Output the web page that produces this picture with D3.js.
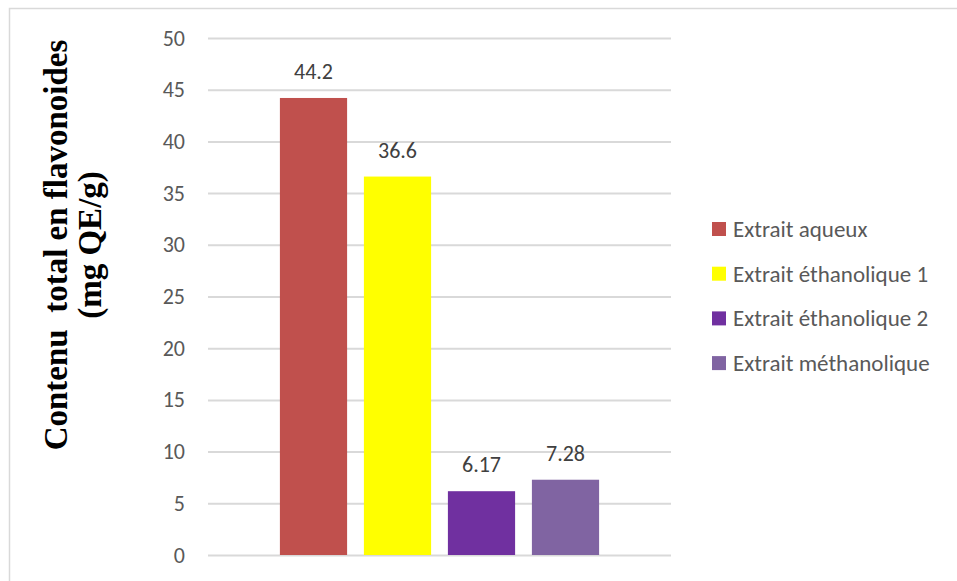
<!DOCTYPE html>
<html><head><meta charset="utf-8">
<script src="https://cdn.jsdelivr.net/npm/d3@7/dist/d3.min.js"></script>
<style>body{margin:0;background:#fff}svg{display:block}</style>
</head><body>
<svg id="c" width="957" height="581"></svg>
<script>
const categories = ["Extrait aqueux","Extrait éthanolique 1","Extrait éthanolique 2","Extrait méthanolique"];
const values = [44.2, 36.6, 6.17, 7.28];
const valueLabels = ["44.2","36.6","6.17","7.28"];
const colors = ["#C0504D","#FFFF00","#7030A0","#8064A2"];
const yTicks = [0,5,10,15,20,25,30,35,40,45,50];
const yTitle = ["Contenu  total en flavonoides","(mg QE/g)"];

const svg = d3.select("#c");
const font = "Carlito, Calibri, Lato, 'Open Sans', sans-serif";
svg.append("rect").attr("x",9.5).attr("y",8.5).attr("width",960).attr("height",600)
  .attr("fill","#fff").attr("stroke","#D9D9D9").attr("stroke-width",1.5);

const x0 = 208, x1 = 671, yTop = 38, yBot = 555;
const y = d3.scaleLinear().domain([0,50]).range([yBot,yTop]);
const x = d3.scaleBand().domain(categories).range([271.5,607.5]).paddingInner(0.2).paddingOuter(0.1);

const yAxis = d3.axisLeft(y).tickValues(yTicks).tickSize(-(x1-x0)).tickPadding(23).tickFormat(d3.format("d"));
const g = svg.append("g").attr("transform",`translate(${x0},0)`).call(yAxis);
g.select(".domain").remove();
g.selectAll(".tick line").attr("stroke","#D9D9D9").attr("stroke-width",2);
g.selectAll(".tick text").attr("fill","#595959").style("font-family",font).style("font-size","22px");

svg.selectAll("rect.bar").data(values).join("rect").attr("class","bar")
  .attr("x",(d,i)=>x(categories[i])).attr("width",x.bandwidth())
  .attr("y",d=>y(d)).attr("height",d=>yBot-y(d)).attr("fill",(d,i)=>colors[i]);

svg.selectAll("text.lbl").data(values).join("text").attr("class","lbl")
  .attr("x",(d,i)=>x(categories[i])+x.bandwidth()/2).attr("y",d=>y(d)-19)
  .attr("text-anchor","middle").attr("fill","#404040")
  .style("font-family",font).style("font-size","22px").text((d,i)=>valueLabels[i]);

const tg = svg.append("g").attr("transform","translate(0,245) rotate(-90)");
tg.selectAll("text").data(yTitle).join("text")
  .attr("x",0).attr("y",(d,i)=>67+i*34).attr("text-anchor","middle")
  .style("white-space","pre")
  .style("font-family","'Liberation Serif','Times New Roman',serif").style("font-weight","bold")
  .style("font-size","33px").attr("fill","#000").text(d=>d);

const lg = svg.append("g");
const rows = lg.selectAll("g").data(categories).join("g")
  .attr("transform",(d,i)=>`translate(712,${229+i*44.7})`);
rows.append("rect").attr("x",0).attr("y",-7).attr("width",14).attr("height",14).attr("fill",(d,i)=>colors[i]);
rows.append("text").attr("x",21).attr("y",0).attr("dy","0.35em").attr("fill","#595959")
  .style("font-family",font).style("font-size","23px").text(d=>d);
</script>
</body></html>
